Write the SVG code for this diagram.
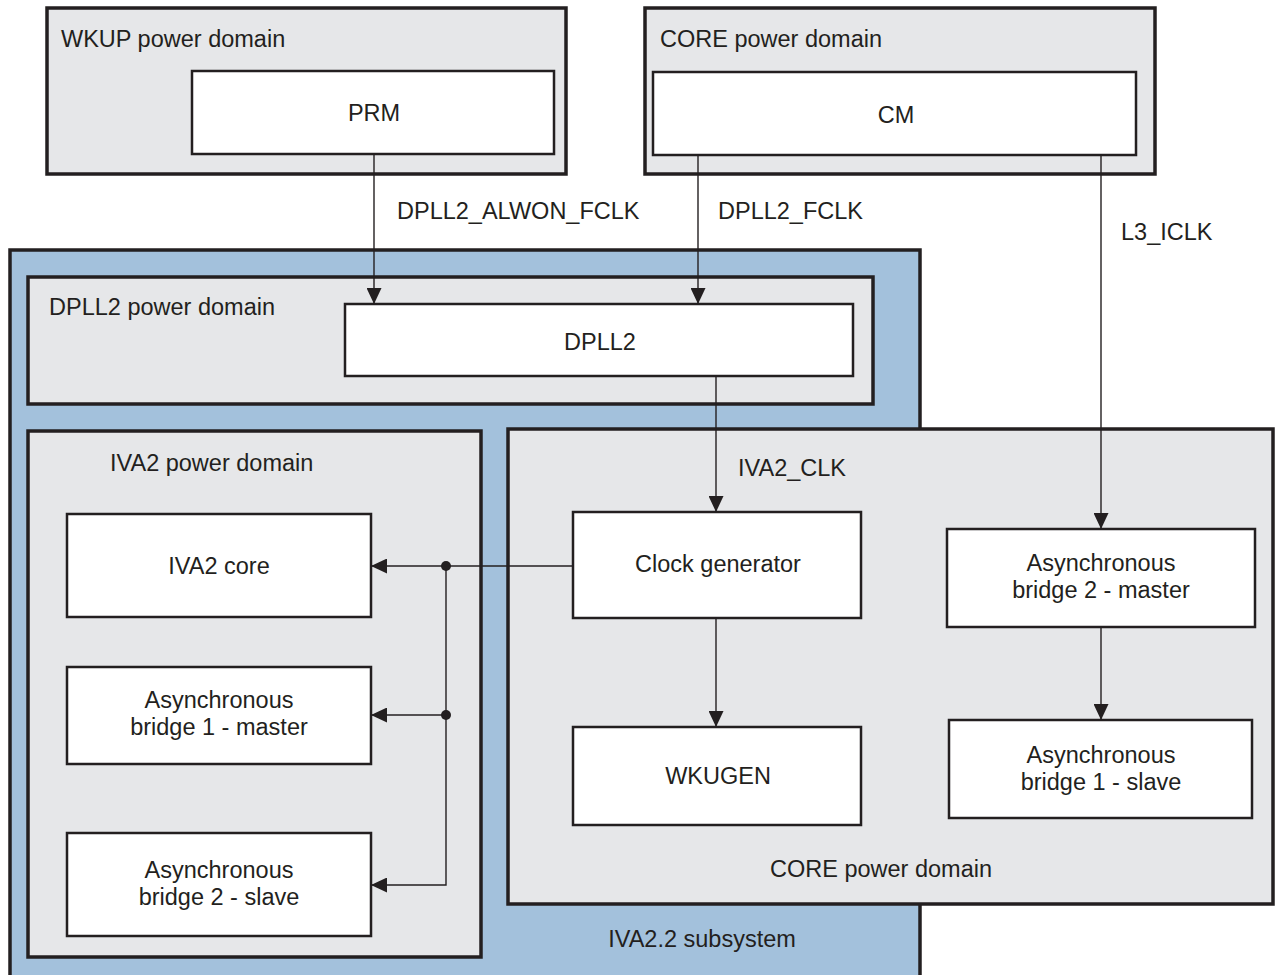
<svg xmlns="http://www.w3.org/2000/svg" width="1275" height="975" viewBox="0 0 1275 975">
<style>
  .domain { fill: #e6e7e9; stroke: #231f20; stroke-width: 3.5; }
  .sub { fill: #a3c1dc; stroke: #231f20; stroke-width: 3.5; }
  .box { fill: #ffffff; stroke: #231f20; stroke-width: 2.5; }
  text { font-family: "Liberation Sans", Arial, sans-serif; font-size: 23.5px; fill: #231f20; }
  .c { text-anchor: middle; }
  .wire { fill: none; stroke: #231f20; stroke-width: 1.4; }
</style>
<defs>
  <marker id="ah" viewBox="0 0 16 15" refX="16" refY="7.5" markerWidth="16" markerHeight="15" markerUnits="userSpaceOnUse" orient="auto">
    <path d="M0,0 L16,7.5 L0,15 Z" fill="#231f20"/>
  </marker>
</defs>
<rect width="1275" height="975" fill="#ffffff"/>

<g id="wkup-domain">
  <rect class="domain" x="47" y="8" width="519" height="166"/>
  <text x="61" y="47">WKUP power domain</text>
</g>
<g id="prm">
  <rect class="box" x="192" y="71" width="362" height="83"/>
  <text class="c" x="374" y="121">PRM</text>
</g>
<g id="core-domain-top">
  <rect class="domain" x="645" y="8" width="510" height="166"/>
  <text x="660" y="47">CORE power domain</text>
</g>
<g id="cm">
  <rect class="box" x="653" y="72" width="483" height="83"/>
  <text class="c" x="896" y="123">CM</text>
</g>

<g id="iva22-subsystem">
  <rect class="sub" x="10" y="250" width="910" height="730"/>
  <text class="c" x="702" y="947">IVA2.2 subsystem</text>
</g>
<g id="dpll2-domain">
  <rect class="domain" x="28" y="277" width="845" height="127"/>
  <text x="49" y="315">DPLL2 power domain</text>
</g>
<g id="dpll2">
  <rect class="box" x="345" y="304" width="508" height="72"/>
  <text class="c" x="600" y="350">DPLL2</text>
</g>
<g id="iva2-domain">
  <rect class="domain" x="28" y="431" width="453" height="526"/>
  <text x="110" y="471">IVA2 power domain</text>
</g>
<g id="core-domain-bottom">
  <rect class="domain" x="508" y="429" width="765" height="475"/>
  <text class="c" x="881" y="877">CORE power domain</text>
</g>
<g id="clock-generator">
  <rect class="box" x="573" y="512" width="288" height="106"/>
  <text class="c" x="718" y="572">Clock generator</text>
</g>
<g id="wkugen">
  <rect class="box" x="573" y="727" width="288" height="98"/>
  <text class="c" x="718" y="784">WKUGEN</text>
</g>
<g id="async-bridge2-master">
  <rect class="box" x="947" y="529" width="308" height="98"/>
  <text class="c" x="1101" y="571">Asynchronous</text>
  <text class="c" x="1101" y="598">bridge 2 - master</text>
</g>
<g id="async-bridge1-slave">
  <rect class="box" x="949" y="720" width="303" height="98"/>
  <text class="c" x="1101" y="763">Asynchronous</text>
  <text class="c" x="1101" y="790">bridge 1 - slave</text>
</g>
<g id="iva2-core">
  <rect class="box" x="67" y="514" width="304" height="103"/>
  <text class="c" x="219" y="574">IVA2 core</text>
</g>
<g id="async-bridge1-master">
  <rect class="box" x="67" y="667" width="304" height="97"/>
  <text class="c" x="219" y="708">Asynchronous</text>
  <text class="c" x="219" y="735">bridge 1 - master</text>
</g>
<g id="async-bridge2-slave">
  <rect class="box" x="67" y="833" width="304" height="103"/>
  <text class="c" x="219" y="878">Asynchronous</text>
  <text class="c" x="219" y="905">bridge 2 - slave</text>
</g>

<g id="connectors">
  <line class="wire" x1="374" y1="154" x2="374" y2="304" marker-end="url(#ah)"/>
  <text x="397" y="219">DPLL2_ALWON_FCLK</text>
  <line class="wire" x1="698" y1="155" x2="698" y2="304" marker-end="url(#ah)"/>
  <text x="718" y="219">DPLL2_FCLK</text>
  <line class="wire" x1="1101" y1="155" x2="1101" y2="529" marker-end="url(#ah)"/>
  <text x="1121" y="240">L3_ICLK</text>
  <line class="wire" x1="716" y1="376" x2="716" y2="512" marker-end="url(#ah)"/>
  <text x="738" y="476">IVA2_CLK</text>
  <line class="wire" x1="716" y1="618" x2="716" y2="727" marker-end="url(#ah)"/>
  <line class="wire" x1="1101" y1="627" x2="1101" y2="720" marker-end="url(#ah)"/>
  <line class="wire" x1="573" y1="566" x2="371" y2="566" marker-end="url(#ah)"/>
  <polyline class="wire" points="446,566 446,885 371,885" marker-end="url(#ah)"/>
  <line class="wire" x1="446" y1="715" x2="371" y2="715" marker-end="url(#ah)"/>
  <circle cx="446" cy="566" r="5" fill="#231f20"/>
  <circle cx="446" cy="715" r="5" fill="#231f20"/>
</g>
</svg>
